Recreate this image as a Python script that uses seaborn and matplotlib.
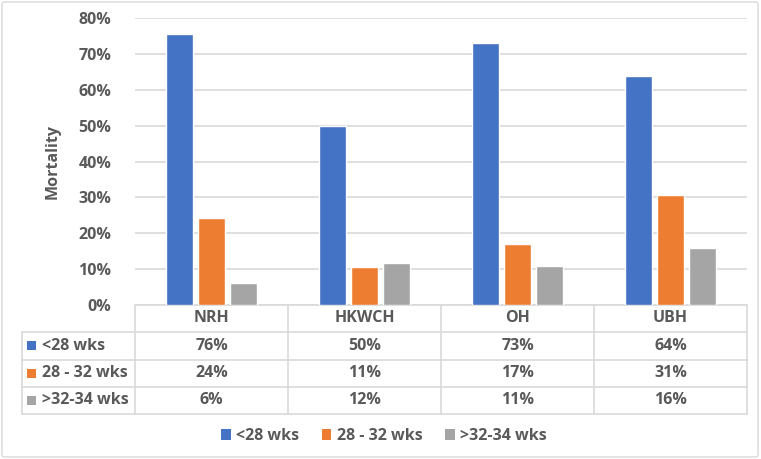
import matplotlib
matplotlib.use("Agg")
import matplotlib.pyplot as plt
import matplotlib.transforms as mtransforms
from matplotlib.patches import Rectangle, FancyBboxPatch
import seaborn as sns
import pandas as pd

hospitals = ["NRH", "HKWCH", "OH", "UBH"]
series = ["<28 wks", "28 - 32 wks", ">32-34 wks"]
lt28 = [75.6, 49.9, 73.1, 63.8]
w28_32 = [24.2, 10.7, 16.9, 30.6]
gt32_34 = [6.0, 11.7, 10.9, 15.8]
yticks = [0, 10, 20, 30, 40, 50, 60, 70, 80]
colors = ["#4472C4", "#ED7D31", "#A5A5A5"]

rows = []
for s, vals in zip(series, [lt28, w28_32, gt32_34]):
    for h, v in zip(hospitals, vals):
        rows.append({"Hospital": h, "Series": s, "Mortality": v})
df = pd.DataFrame(rows)

sns.set_theme(style="white")
plt.rcParams["font.family"] = ["Open Sans", "DejaVu Sans"]
TXT = "#595959"
FS = 11.5
FW = "bold"

W, H = 761, 459
fig = plt.figure(figsize=(W / 100, H / 100), dpi=100)
ax = fig.add_axes([135 / W, 1 - 305 / H, 612 / W, 287 / H])

sns.barplot(data=df, x="Hospital", y="Mortality", hue="Series", order=hospitals,
            hue_order=series, palette=colors, width=0.62, gap=0.15,
            saturation=1, ax=ax, legend=False, zorder=3)

ax.set_xlim(-0.5, 3.5)
ax.set_ylim(0, 80)
ax.set_yticks(yticks)
ax.set_yticklabels([f"{t}%" for t in yticks], color=TXT, fontsize=FS, fontweight=FW)
ax.tick_params(axis="y", length=0, pad=17)
ax.set_xticks([])
ax.set_xlabel("")
ax.set_ylabel("Mortality", color=TXT, fontsize=FS, fontweight=FW, labelpad=13)
ax.yaxis.grid(True, color="#D9D9D9", linewidth=1.2, zorder=0)
for sp in ax.spines.values():
    sp.set_visible(False)

tr = mtransforms.blended_transform_factory(ax.transData, ax.transAxes)
ah = 287.0
def yf(py):
    return -(py - 305) / ah

lc = "#D9D9D9"
left_x = -0.5 - (135 - 22) / 153.0
row_lines = [332, 359.5, 387, 414]
ax.plot([-0.5, 3.5], [yf(305), yf(305)], transform=tr, color=lc, lw=1.2, clip_on=False)
for ry in row_lines:
    ax.plot([left_x, 3.5], [yf(ry), yf(ry)], transform=tr, color=lc, lw=1.2, clip_on=False)
for cx in [-0.5, 0.5, 1.5, 2.5, 3.5]:
    ax.plot([cx, cx], [yf(305), yf(414)], transform=tr, color=lc, lw=1.2, clip_on=False)
ax.plot([left_x, left_x], [yf(332), yf(414)], transform=tr, color=lc, lw=1.2, clip_on=False)

for i, h in enumerate(hospitals):
    ax.text(i, yf(318.5), h, transform=tr, ha="center", va="center",
            color=TXT, fontsize=FS, fontweight=FW)

centers = [345.7, 373.2, 400.5]
for r, (s, vals, c) in enumerate(zip(series, [lt28, w28_32, gt32_34], colors)):
    cy = centers[r]
    sq_x = -0.5 - (135 - 27) / 153.0
    sq_w = 9 / 153.0
    ax.add_patch(Rectangle((sq_x, yf(cy + 4.5)), sq_w, 9 / ah, transform=tr,
                           facecolor=c, edgecolor="none", clip_on=False))
    ax.text(-0.5 - (135 - 42) / 153.0, yf(cy), s, transform=tr, ha="left", va="center",
            color=TXT, fontsize=FS, fontweight=FW)
    for i, v in enumerate(vals):
        ax.text(i, yf(cy), f"{round(v):d}%", transform=tr, ha="center", va="center",
                color=TXT, fontsize=FS, fontweight=FW)

handles = [Rectangle((0, 0), 1, 1, facecolor=c, edgecolor="none") for c in colors]
leg = fig.legend(handles, series, loc="center", bbox_to_anchor=(384 / W, 1 - 436 / H),
                 ncol=3, frameon=False, handlelength=0.6, handleheight=0.75,
                 handletextpad=0.35, columnspacing=1.4,
                 prop={"size": FS, "weight": FW})
for t in leg.get_texts():
    t.set_color(TXT)

fig.patches.append(FancyBboxPatch((2 / W, 2 / H), 756 / W, 455 / H,
                                  boxstyle="round,pad=0,rounding_size=0.004",
                                  transform=fig.transFigure, facecolor="none",
                                  edgecolor="#D9D9D9", linewidth=1.0))

fig.savefig("out.png", dpi=100)
